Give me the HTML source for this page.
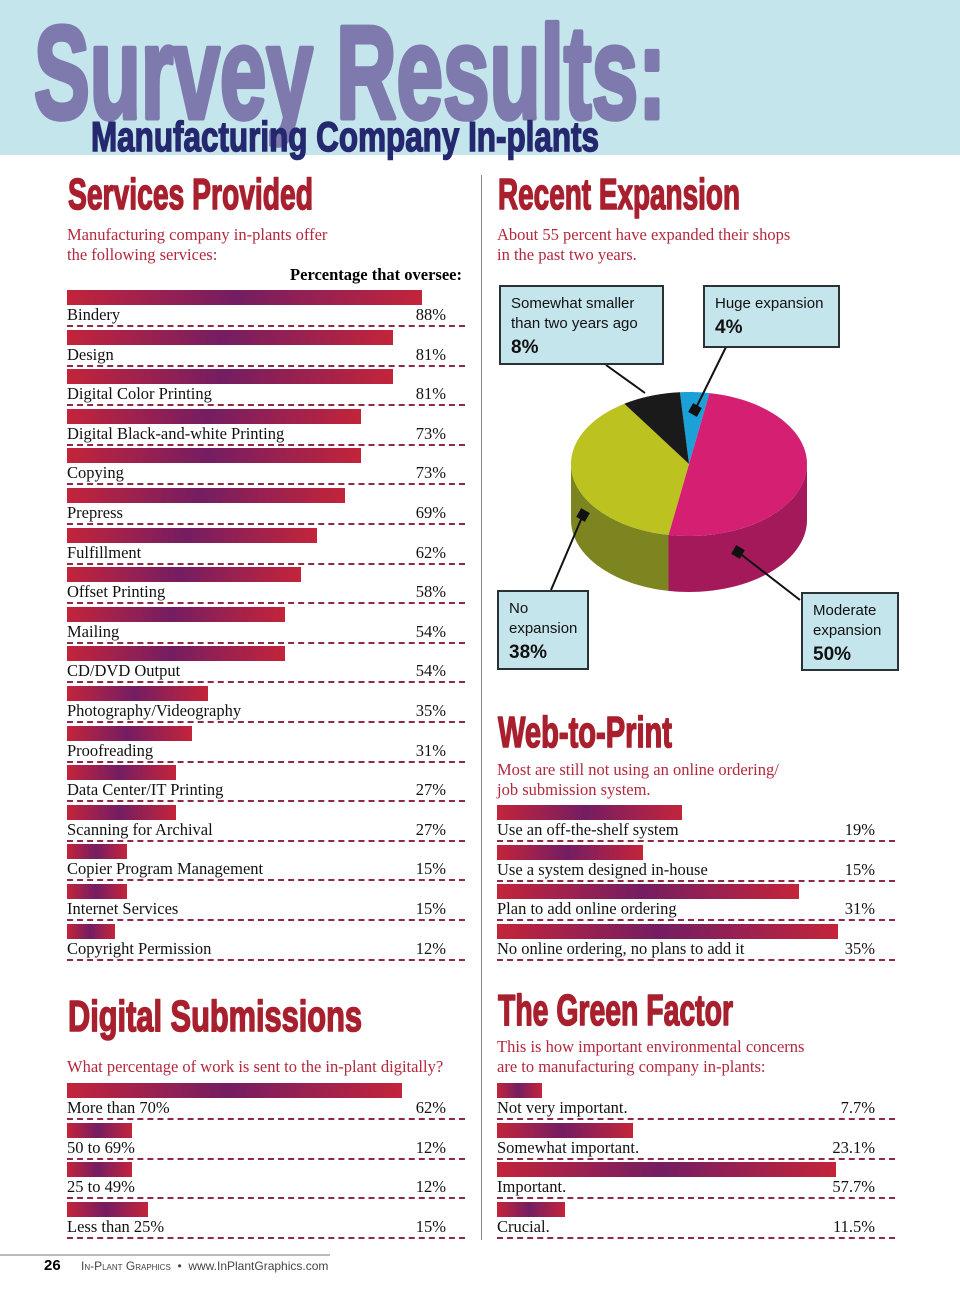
<!DOCTYPE html>
<html><head><meta charset="utf-8">
<style>
*{margin:0;padding:0;box-sizing:border-box}
body{width:960px;height:1301px;background:#fff;position:relative;overflow:hidden;font-family:"Liberation Serif",serif}
.abs{position:absolute}
.sub{position:absolute;color:#b3283c;font-size:16.5px;line-height:20px;font-family:"Liberation Serif",serif}
.lbl{position:absolute;font-size:16.5px;line-height:18px;color:#111;white-space:nowrap}
.pct{position:absolute;font-size:16.5px;line-height:18px;color:#111;text-align:right;white-space:nowrap}
.bar{position:absolute;height:15px;background:linear-gradient(90deg,#c3243a 0%,#9a2150 25%,#741d62 48%,#9a2150 72%,#c3243a 100%)}
.dash{position:absolute;height:0;border-top:2px dashed #8e2a45}
.box{position:absolute;background:#c5e5ec;border:2px solid #2b3236;font-family:"Liberation Sans",sans-serif;font-size:15px;line-height:20px;color:#111;padding:7px 0 0 10px}
.box b{font-size:19px;display:block;margin-top:4px}
</style></head>
<body>
<div class="abs" style="left:0;top:0;width:960px;height:155px;background:#c5e5ec"></div>
<svg class="abs" style="left:0;top:0" width="960" height="170">
<text x="34" y="118" textLength="632" lengthAdjust="spacingAndGlyphs" font-family="Liberation Sans Narrow, Liberation Sans, sans-serif" font-weight="bold" font-size="132" fill="#7f7aad" stroke="#7f7aad" stroke-width="5" stroke-linejoin="round">Survey Results:</text>
<text x="91" y="151" textLength="508" lengthAdjust="spacingAndGlyphs" font-family="Liberation Sans Narrow, Liberation Sans, sans-serif" font-weight="bold" font-size="42" fill="#25286e" stroke="#25286e" stroke-width="1.5">Manufacturing Company In-plants</text>
</svg>
<div class="abs" style="left:481px;top:175px;width:1px;height:1065px;background:#888"></div>

<svg class="abs" style="left:0;top:0" width="960" height="1301">
<g font-family="Liberation Sans Narrow, Liberation Sans, sans-serif" font-weight="bold" font-size="44" fill="#a8202e" stroke="#a8202e" stroke-width="1.6" stroke-linejoin="round">
<text x="68" y="209" textLength="245" lengthAdjust="spacingAndGlyphs">Services Provided</text>
<text x="498" y="209" textLength="242" lengthAdjust="spacingAndGlyphs">Recent Expansion</text>
<text x="498" y="747" textLength="174" lengthAdjust="spacingAndGlyphs">Web-to-Print</text>
<text x="68" y="1031" textLength="294" lengthAdjust="spacingAndGlyphs">Digital Submissions</text>
<text x="498" y="1025" textLength="235" lengthAdjust="spacingAndGlyphs">The Green Factor</text>
</g></svg>

<div class="sub" style="left:67px;top:225px">Manufacturing company in-plants offer<br>the following services:</div>
<div class="abs" style="left:200px;width:262px;top:265px;text-align:right;font-weight:bold;font-size:16.5px">Percentage that oversee:</div>
<div class="sub" style="left:497px;top:225px">About 55 percent have expanded their shops<br>in the past two years.</div>
<div class="sub" style="left:497px;top:760px">Most are still not using an online ordering/<br>job submission system.</div>
<div class="sub" style="left:67px;top:1057px">What percentage of work is sent to the in-plant digitally?</div>
<div class="sub" style="left:497px;top:1037px">This is how important environmental concerns<br>are to manufacturing company in-plants:</div>

<div id="bars"></div>

<svg class="abs" id="pie" style="left:0;top:0" width="960" height="700"></svg>

<div class="box" style="left:499px;top:285px;width:165px;height:80px">Somewhat smaller<br>than two years ago<b>8%</b></div>
<div class="box" style="left:703px;top:285px;width:137px;height:63px">Huge expansion<b>4%</b></div>
<div class="box" style="left:497px;top:590px;width:92px;height:80px">No<br>expansion<b>38%</b></div>
<div class="box" style="left:801px;top:592px;width:98px;height:79px">Moderate<br>expansion<b>50%</b></div>

<div class="abs" style="left:0;top:1254px;width:330px;height:2px;background:#bbb"></div>
<div class="abs" style="left:44px;top:1257px;font-family:'Liberation Sans',sans-serif;font-weight:bold;font-size:15px">26</div>
<div class="abs" style="left:81px;top:1259px;font-family:'Liberation Sans',sans-serif;font-size:12px;color:#444;white-space:nowrap"><span style="font-variant:small-caps">In-Plant Graphics</span> &nbsp;•&nbsp; www.InPlantGraphics.com</div>

<script>
const servicesLabels=["Bindery","Design","Digital Color Printing","Digital Black-and-white Printing","Copying","Prepress","Fulfillment","Offset Printing","Mailing","CD/DVD Output","Photography/Videography","Proofreading","Data Center/IT Printing","Scanning for Archival","Copier Program Management","Internet Services","Copyright Permission"];
const servicesValues=[88,81,81,73,73,69,62,58,54,54,35,31,27,27,15,15,12];
const webLabels=["Use an off-the-shelf system","Use a system designed in-house","Plan to add online ordering","No online ordering, no plans to add it"];
const webValues=[19,15,31,35];
const digitalLabels=["More than 70%","50 to 69%","25 to 49%","Less than 25%"];
const digitalValues=[62,12,12,15];
const greenLabels=["Not very important.","Somewhat important.","Important.","Crucial."];
const greenValues=[7.7,23.1,57.7,11.5];
const pieLabels=["Huge expansion","Moderate expansion","No expansion","Somewhat smaller"];
const pieValues=[4,50,38,8];

const host=document.getElementById('bars');
function chart(id,labels,values,x0,top,scale,pctRight,lineEnd,dec){
  labels.forEach((l,i)=>{
    const y=top+i*39.6;
    const b=document.createElement('div');b.className='bar';
    
    
    b.style.left=x0+'px';b.style.top=y+'px';b.style.width=(values[i]*scale)+'px';host.appendChild(b);
    const t=document.createElement('div');t.className='lbl';
    
    
    t.style.left=x0+'px';t.style.top=(y+16)+'px';t.textContent=l;host.appendChild(t);
    const p=document.createElement('div');p.className='pct';
    
    
    p.style.left=(pctRight-80)+'px';p.style.width='80px';p.style.top=(y+16)+'px';
    p.textContent=(dec?values[i].toFixed(1):values[i])+'%';host.appendChild(p);
    const d=document.createElement('div');d.className='dash';
    
    
    d.style.left=x0+'px';d.style.top=(y+35)+'px';d.style.width=(lineEnd-x0)+'px';host.appendChild(d);
  });
}
chart('service',servicesLabels,servicesValues,67,290,4.03,446,465,false);
chart('web',webLabels,webValues,497,805,9.74,875,895,false);
chart('digital',digitalLabels,digitalValues,67,1083,5.4,446,465,false);
chart('green',greenLabels,greenValues,497,1083,5.87,875,895,true);

const svg=document.getElementById('pie');const NS='http://www.w3.org/2000/svg';
const cx=689,cy=464,rx=118,ry=72,depth=56,start=-4.4;
const topC=['#1ba0d8','#d41f73','#bcc21f','#1a1a1a'];
const sideC=['#137aa6','#a3195a','#7d8520','#111'];
function pt(a,dy){const r=a*Math.PI/180;return [cx+rx*Math.sin(r),cy-ry*Math.cos(r)+(dy||0)];}
const total=pieValues.reduce((a,b)=>a+b,0);
let a=start;const arcs=[];
pieValues.forEach(v=>{const s=a,e=a+v/total*360;arcs.push([s,e]);a=e;});
arcs.forEach(([s,e],i)=>{
  const lo=Math.max(s,90),hi=Math.min(e,270);
  if(hi<=lo) return;
  const n=40;const top=[],bot=[];
  for(let k=0;k<=n;k++){const t=lo+(hi-lo)*k/n;top.push(pt(t));bot.push(pt(t,depth));}
  const d='M'+top.map(p=>p.join(',')).join(' L')+' L'+bot.reverse().map(p=>p.join(',')).join(' L')+'Z';
  const p=document.createElementNS(NS,'path');p.setAttribute('d',d);p.setAttribute('fill',sideC[i]);
  
  
  svg.appendChild(p);
});
arcs.forEach(([s,e],i)=>{
  const n=60;let pts=[[cx,cy]];
  for(let k=0;k<=n;k++){pts.push(pt(s+(e-s)*k/n));}
  const p=document.createElementNS(NS,'path');p.setAttribute('d','M'+pts.map(q=>q.join(',')).join(' L')+'Z');
  p.setAttribute('fill',topC[i]);
  
  
  svg.appendChild(p);
});
const leaders=[[726,347,695,410],[800,600,738,552],[551,590,583,515],[606,365,645,393]];
leaders.forEach((l,i)=>{
  const ln=document.createElementNS(NS,'line');ln.setAttribute('x1',l[0]);ln.setAttribute('y1',l[1]);ln.setAttribute('x2',l[2]);ln.setAttribute('y2',l[3]);
  ln.setAttribute('stroke','#111');ln.setAttribute('stroke-width','2');
  
  
  svg.appendChild(ln);
  if(i<3){const r=document.createElementNS(NS,'rect');r.setAttribute('x',l[2]-5);r.setAttribute('y',l[3]-5);r.setAttribute('width',10);r.setAttribute('height',10);
  r.setAttribute('transform','rotate(30 '+l[2]+' '+l[3]+')');r.setAttribute('fill','#111');
  
  
  svg.appendChild(r);}
});
</script>
</body></html>
